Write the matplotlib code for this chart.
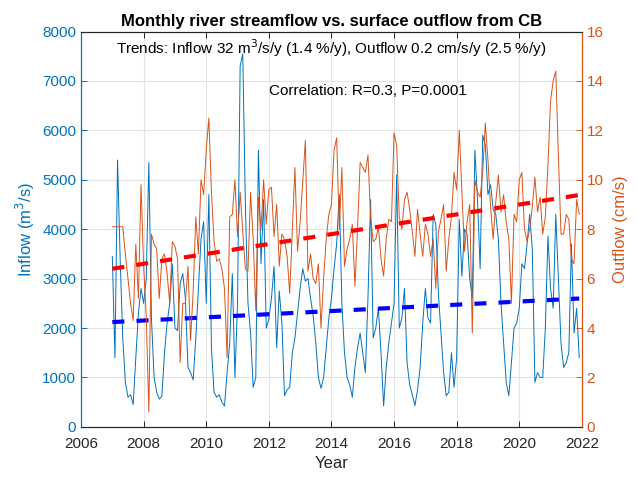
import numpy as np
import matplotlib
matplotlib.use("Agg")
import matplotlib.pyplot as plt

plt.rcParams['font.family'] = ['Liberation Sans', 'DejaVu Sans']

start_year = 2007
inflow = [
    3450, 1400, 5400, 3400, 1800, 900, 600, 650, 450, 1400, 2300, 2800,   # 2007
    2500, 3000, 5350, 2200, 1000, 700, 560, 620, 1500, 2100, 2500, 3300,  # 2008
    2000, 1950, 2900, 3100, 2600, 1200, 1100, 950, 1800, 2800, 3800, 4150,  # 2009
    2500, 4700, 1600, 700, 600, 650, 500, 420, 1100, 1700, 3100, 1000,   # 2010
    2500, 7300, 7550, 4500, 2500, 1900, 800, 1000, 5600, 3300, 4600, 2000,  # 2011
    2180, 2600, 3250, 1600, 2750, 2100, 630, 750, 800, 1500, 1800, 2300,  # 2012
    2800, 3200, 2950, 3000, 2600, 2250, 1700, 1000, 780, 1000, 1600, 2200,  # 2013
    2600, 3200, 3700, 4700, 2500, 1500, 1000, 850, 600, 1200, 1600, 1900,  # 2014
    1500, 1100, 2600, 4600, 1800, 2000, 2400, 1500, 420, 1200, 1700, 2100,  # 2015
    2500, 5100, 2000, 2200, 2800, 1300, 850, 650, 430, 750, 1200, 2100,  # 2016
    2800, 2200, 2100, 4300, 4100, 2700, 1900, 1100, 630, 700, 1500, 800,  # 2017
    1400, 4200, 3050, 4000, 3900, 3000, 2600, 5600, 4600, 3200, 5900, 5700,  # 2018
    4700, 4900, 4400, 4300, 3800, 2500, 1700, 900, 630, 1300, 2000, 2100,  # 2019
    2400, 3300, 3200, 3700, 4300, 3600, 900, 1100, 1000, 1000, 2000, 3860,  # 2020
    2800, 2400, 4300, 3000, 1700, 1200, 1300, 1500, 3700, 1900, 2400, 1400,  # 2021
]
outflow = [
    8.1, 8.1, 8.1, 8.1, 8.1, 7.0, 6.0, 5.0, 4.3, 7.4, 5.2, 9.8,      # 2007
    6.5, 4.5, 0.6, 7.8, 7.4, 7.2, 5.2, 6.8, 7.0, 6.2, 5.0, 7.5,      # 2008
    7.3, 6.8, 2.6, 5.0, 5.0, 6.5, 3.5, 5.5, 8.5, 7.0, 10.0, 9.4,     # 2009
    11.2, 12.5, 9.5, 7.5, 6.7, 6.8, 6.4, 5.6, 2.8, 8.5, 8.6, 10.0,   # 2010
    7.7, 9.5, 7.9, 6.4, 6.3, 9.5, 7.6, 4.7, 9.3, 8.0, 10.0, 8.2,     # 2011
    9.6, 9.7, 7.7, 9.0, 6.5, 7.8, 7.6, 6.9, 5.4, 8.0, 10.5, 7.1,     # 2012
    8.3, 9.9, 11.6, 6.3, 7.0, 6.0, 5.8, 6.6, 4.0, 6.0, 7.6, 8.6,     # 2013
    9.0, 11.2, 11.7, 8.0, 10.5, 6.5, 7.2, 7.6, 8.2, 5.7, 8.0, 10.7,  # 2014
    10.5, 10.3, 11.0, 8.5, 7.5, 7.6, 8.1, 6.8, 6.1, 7.6, 8.4, 8.3,   # 2015
    11.9, 11.4, 8.5, 8.0, 9.2, 9.5, 8.8, 7.9, 6.9, 8.8, 7.8, 6.9,    # 2016
    8.2, 7.8, 6.9, 7.6, 5.6, 7.9, 8.4, 9.0, 6.3, 7.6, 8.5, 10.3,     # 2017
    9.6, 12.0, 9.6, 7.1, 8.3, 9.0, 3.8, 10.0, 9.5, 9.3, 10.3, 12.3,  # 2018
    10.8, 8.9, 7.6, 9.1, 10.2, 8.7, 9.4, 8.3, 7.6, 5.0, 8.6, 8.3,    # 2019
    10.0, 10.3, 8.0, 7.5, 8.0, 8.9, 10.1, 8.7, 9.3, 7.8, 8.5, 10.6,  # 2020
    13.2, 14.0, 14.4, 11.0, 7.8, 7.8, 8.6, 8.4, 6.8, 6.6, 9.2, 8.6,  # 2021
]
# trend (start value at 2007, slope per year)
inflow_trend = (2120, 32)
outflow_trend = (6.4, 0.2)

title = 'Monthly river streamflow vs. surface outflow from CB'
trend_text = 'Trends: Inflow 32 m$^3$/s/y (1.4 %/y), Outflow 0.2 cm/s/y (2.5 %/y)'
corr_text = 'Correlation: R=0.3, P=0.0001'

BLUE = '#0072BD'
ORANGE = '#D95319'
DARK = '#262626'

t = start_year + np.arange(len(inflow)) / 12.0
tt = np.array([t[0], t[-1]])

fig = plt.figure(figsize=(6.38, 4.78), dpi=100)
ax = fig.add_axes([0.127, 0.107, 0.785, 0.827])
ax2 = ax.twinx()

ax.plot(t, inflow, color=BLUE, lw=0.7)
ax2.plot(t, outflow, color=ORANGE, lw=0.7)
ax.plot(tt, inflow_trend[0] + inflow_trend[1] * (tt - start_year), color='blue',
        lw=3, linestyle=(0, (2.9, 2.9)))
ax2.plot(tt, outflow_trend[0] + outflow_trend[1] * (tt - start_year), color='red',
         lw=3, linestyle=(0, (2.9, 2.9)))

ax.set_xlim(2006, 2022)
ax.set_ylim(0, 8000)
ax2.set_ylim(0, 16)
ax.set_xticks(np.arange(2006, 2023, 2))
ax.set_yticks(np.arange(0, 8001, 1000))
ax2.set_yticks(np.arange(0, 17, 2))
ax.grid(True, color='#E3E3E3', lw=0.8)
ax.set_axisbelow(True)

ax.tick_params(axis='x', direction='in', length=4, labelsize=11, colors=DARK, top=True,
               width=0.7, pad=7)
ax.tick_params(axis='y', direction='in', length=4, labelsize=11, colors=BLUE, width=0.7)
ax2.tick_params(axis='y', direction='in', length=4, labelsize=11, colors=ORANGE, width=0.7)
for a in (ax, ax2):
    a.spines['top'].set_color(DARK)
    a.spines['bottom'].set_color(DARK)
    a.spines['left'].set_color(BLUE)
    a.spines['right'].set_color(ORANGE)
    for s in a.spines.values():
        s.set_linewidth(0.8)

ax.set_xlabel('Year', fontsize=12, color=DARK, labelpad=4)
ax.set_ylabel('Inflow (m$^3$/s)', fontsize=12, color=BLUE, labelpad=4)
ax2.set_ylabel('Outflow (cm/s)', fontsize=12, color=ORANGE, labelpad=7)
ax.set_title(title, fontsize=12, fontweight='bold', color='black', pad=4)

ax.text(2014.0, 7660, trend_text, fontsize=11, ha='center', va='center', color='black')
ax.text(2015.15, 6800, corr_text, fontsize=11, ha='center', va='center', color='black')

fig.savefig('out.png', dpi=100)
